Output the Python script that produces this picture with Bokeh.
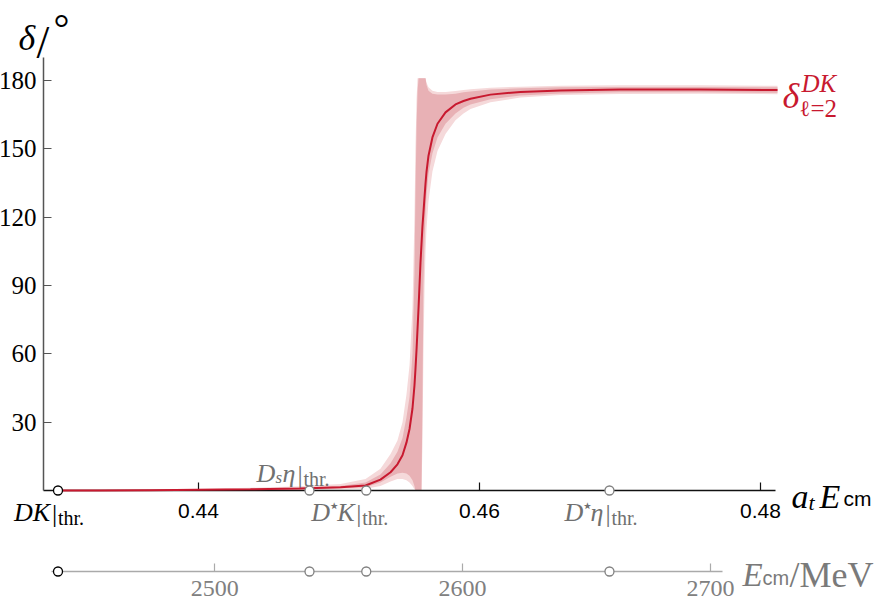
from bokeh.plotting import figure
from bokeh.models import Range1d, LinearAxis, FixedTicker, Label
from bokeh.embed import file_html
from bokeh.resources import INLINE

# ---------------- data ----------------
AT_INV_MEV = 5667.0                      # lattice scale a_t^-1 in MeV
thr_names = ["DK", "Dsη", "D*K", "D*η"]
thr_at = [0.43000, 0.44790, 0.45194, 0.46925]

a_t_E = [0.43000, 0.43302, 0.43658, 0.44014, 0.44370, 0.44726, 0.45011, 0.45189,
         0.45295, 0.45367, 0.45416, 0.45452, 0.45480, 0.45502, 0.45523, 0.45537,
         0.45544, 0.45552, 0.45559, 0.45566, 0.45580, 0.45587, 0.45594, 0.45601,
         0.45609, 0.45616, 0.45623, 0.45637, 0.45665, 0.45701, 0.45758, 0.45829,
         0.45886, 0.45936, 0.46078, 0.46292, 0.46577, 0.47004, 0.47573, 0.48121]
delta_c = [0, 0.05, 0.15, 0.3, 0.5, 0.9, 1.4, 2.2, 4.8, 8, 11.5, 15.5, 21, 27, 36, 46,
           53, 62, 71, 80, 100, 108, 116, 122, 129, 135, 140, 147, 155, 161, 166,
           169.5, 171, 172, 173.8, 175, 175.6, 176, 176, 175.8]
inner_hi = [0.2, 0.25, 0.35, 0.5, 0.8, 1.3, 2.0, 3.5, 7, 12, 17, 23, 32, 41, 60, 95,
            130, 160, 175, 181, 181, 181, 181, 181, 181, 181, 178, 175.5, 174.2, 173.8,
            173.8, 174.2, 174.8, 175.2, 176, 176.6, 177, 177.2, 177.2, 177]
inner_lo = [0, 0, 0, 0.1, 0.3, 0.6, 1.0, 1.4, 3.5, 6, 7.5, 7.8, 7.5, 6.5, 4.5, 2,
            0, 0, 0, 0, 0, 0, 40, 90, 110, 122, 130, 139, 148, 155, 161, 165.5, 168,
            169.5, 171.8, 173.4, 174.3, 174.8, 174.8, 174.6]
outer_hi = [0.4, 0.5, 0.6, 0.8, 1.2, 1.9, 2.8, 5, 9.5, 16, 22, 30, 42, 55, 80, 120,
            150, 172, 181, 181, 181, 181, 181, 181, 181, 181, 179, 177, 175.5, 175,
            175, 175.4, 175.8, 176.2, 176.8, 177.3, 177.7, 177.9, 177.9, 177.7]
outer_lo = [0, 0, 0, 0, 0.1, 0.3, 0.6, 0.8, 2, 4, 5, 5, 4.5, 3.5, 2, 0.5,
            0, 0, 0, 0, 0, 0, 20, 60, 90, 105, 115, 127, 140, 149, 156.5, 162.5, 165.5,
            167.5, 170.5, 172.5, 173.6, 174.1, 174.2, 174]

x_ticks = [0.44, 0.46, 0.48]
y_ticks = [30, 60, 90, 120, 150, 180]
mev_ticks = [2500, 2600, 2700]

# ---------------- layout constants ----------------
W, H = 884, 600
PXX = 14050.0                 # px per unit of a_t E_cm
PXY = 410.0 / 180.0           # px per degree
X0 = 0.44 - 198 / PXX
X1 = X0 + W / PXX
Y1 = 490 / PXY
Y0 = Y1 - H / PXY
X_AX_LEFT = X0 + 43 / PXX
X_AX_RIGHT = X0 + 775 / PXX
Y_AX_TOP = 190
SEC_SY = 571
SEC_Y = Y1 - SEC_SY / PXY
SEC_BOUNDS = (2434, 2705)

RED = "#c8192f"
GRAY = "#707070"
SEC_GRAY = "#7a7a7a"
SERIF = "Liberation Serif"
SANS = "Liberation Sans"


def sx2x(sx):
    return X0 + sx / PXX


def sy2y(sy):
    return Y1 - sy / PXY


def x2sx(x):
    return (x - X0) * PXX


p = figure(width=W, height=H, x_range=Range1d(X0, X1), y_range=Range1d(Y0, Y1),
           x_axis_type=None, y_axis_type=None, toolbar_location=None,
           output_backend="svg", min_border=0)
p.min_border_left = p.min_border_right = p.min_border_top = p.min_border_bottom = 0
p.outline_line_color = None
p.extra_x_ranges = {"mev": Range1d(X0 * AT_INV_MEV, X1 * AT_INV_MEV)}

# ---------------- axes ----------------
yax = LinearAxis(fixed_location=X_AX_LEFT, bounds=(0, Y_AX_TOP),
                 ticker=FixedTicker(ticks=y_ticks),
                 axis_line_color="#555555", axis_line_width=1.5,
                 major_tick_in=8, major_tick_out=0, major_tick_line_color="#555555",
                 major_tick_line_width=1.2, minor_tick_line_color=None,
                 major_label_text_font=SERIF, major_label_text_font_size="25px",
                 major_label_text_color="black", major_label_standoff=7)
p.add_layout(yax, "left")

xax = LinearAxis(fixed_location=0, bounds=(X_AX_LEFT, X_AX_RIGHT),
                 ticker=FixedTicker(ticks=x_ticks),
                 axis_line_color="#111111", axis_line_width=1.5,
                 major_tick_in=8, major_tick_out=0, major_tick_line_color="#111111",
                 major_tick_line_width=1.2, minor_tick_line_color=None,
                 major_label_text_font=SANS, major_label_text_font_size="21px",
                 major_label_text_color="black", major_label_standoff=13)
p.add_layout(xax, "below")

sax = LinearAxis(x_range_name="mev", fixed_location=SEC_Y, bounds=SEC_BOUNDS,
                 ticker=FixedTicker(ticks=mev_ticks),
                 axis_line_color="#aaaaaa", axis_line_width=1.5,
                 major_tick_in=8, major_tick_out=0, major_tick_line_color="#aaaaaa",
                 major_tick_line_width=1.2, minor_tick_line_color=None,
                 major_label_text_font=SERIF, major_label_text_font_size="24px",
                 major_label_text_color="#808080", major_label_standoff=9)
p.add_layout(sax, "below")

# ---------------- glyphs ----------------
p.varea(x=a_t_E, y1=outer_lo, y2=outer_hi, fill_color="#f5d9da")
p.varea(x=a_t_E, y1=inner_lo, y2=inner_hi, fill_color="#e8b1b5")
ln = p.line(a_t_E, delta_c, line_color=RED, line_width=2)
ln.level = "overlay"

thr_line_colors = ["#000000", "#808080", "#808080", "#808080"]
c1 = p.scatter(x=thr_at, y=[0] * len(thr_at), size=9, fill_color="white",
               line_color=thr_line_colors, line_width=1.3)
c1.level = "overlay"
thr_mev = [t * AT_INV_MEV for t in thr_at]
c2 = p.scatter(x=thr_mev, y=[SEC_Y] * len(thr_at), size=9, fill_color="white",
               line_color=thr_line_colors, line_width=1.3, x_range_name="mev")
c2.level = "overlay"


# ---------------- texts ----------------
def put(sx, sy, text, size, style="normal", color="black", font=SERIF):
    p.add_layout(Label(x=sx2x(sx), y=sy2y(sy), text=text, text_font=font,
                       text_font_size=f"{size}px", text_font_style=style,
                       text_color=color, text_align="left",
                       text_baseline="alphabetic"))


AX_SY = Y1 * PXY   # screen y of delta = 0

# threshold labels: (start offset px, baseline offset px from axis, pieces)
thr_pieces = {
    "DK": (-44, 22, [("DK", 0, 0, 26, "italic"), ("|", 38, 1, 26, "normal"),
                     ("thr.", 44, 5, 20, "normal")]),
    "Dsη": (-53, -17, [("D", 0, 0, 26, "italic"), ("s", 19, 4, 17, "italic"),
                       ("η", 26, 0, 26, "italic"), ("|", 41, 1, 26, "normal"),
                       ("thr.", 47, 5, 20, "normal")]),
    "D*K": (-55, 22, [("D", 0, 0, 26, "italic"), ("⋆", 17, -8, 19, "normal"),
                      ("K", 26, 0, 26, "italic"), ("|", 45, 1, 26, "normal"),
                      ("thr.", 51, 5, 20, "normal")]),
    "D*η": (-45, 22, [("D", 0, 0, 26, "italic"), ("⋆", 17, -8, 19, "normal"),
                      ("η", 26, 0, 26, "italic"), ("|", 41, 1, 26, "normal"),
                      ("thr.", 47, 5, 20, "normal")]),
}
for name, t in zip(thr_names, thr_at):
    off, base, pieces = thr_pieces[name]
    col = "black" if name == "DK" else GRAY
    sx0 = x2sx(t) + off
    for txt, dxp, dyp, size, style in pieces:
        fnt = "DejaVu Sans" if txt == "⋆" else SERIF
        put(sx0 + dxp, AX_SY + base + dyp, txt, size, style, col, fnt)

# y axis title  δ/°
put(18, 37, "δ", 36, "italic")
put(36, 42, "/", 46)
put(53, 28, "°", 40)

# x axis title  a_t E_cm
put(791, 496, "a", 34, "italic")
put(808, 502, "t", 22, "italic")
put(819, 496, "E", 34, "italic")
put(843, 498, "cm", 21, "normal", "black", SANS)

# secondary title  E_cm / MeV
put(742, 574, "E", 33, "italic", SEC_GRAY)
put(762, 577, "cm", 20, "normal", SEC_GRAY, SANS)
put(789, 574, "/MeV", 36, "normal", SEC_GRAY)

# curve label  δ^{DK}_{ℓ=2}
lx = x2sx(a_t_E[-1]) + 5
ly = AX_SY - delta_c[-1] * PXY
put(lx, ly + 6, "δ", 36, "italic", RED)
put(lx + 19, ly - 7, "DK", 25, "italic", RED)
put(lx + 17, ly + 18, "ℓ", 22, "normal", RED, "DejaVu Serif")
put(lx + 28, ly + 18, "=2", 25, "normal", RED)

open("out.html", "w").write(file_html(p, INLINE))
